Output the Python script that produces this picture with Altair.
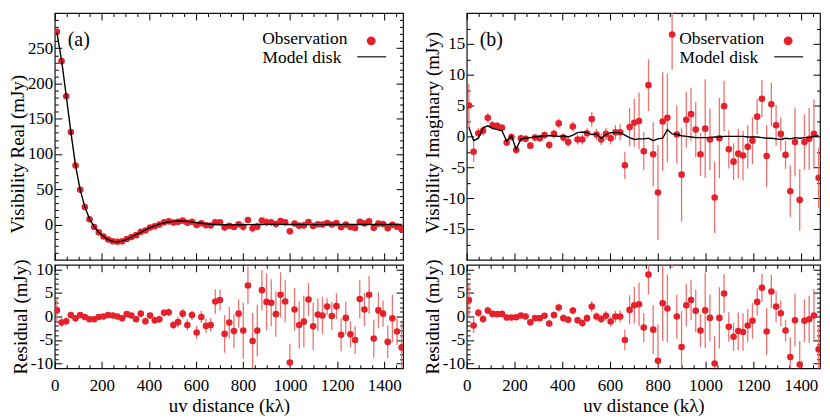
import altair as alt
import pandas as pd

# ---------------- data ----------------
uv = [9, 28.8, 48.6, 68.4, 88.2, 108, 127.8, 147.6, 167.4, 187.2,
      207, 226.8, 246.6, 266.4, 286.2, 306, 325.8, 345.6, 365.4, 385.2,
      405, 424.8, 444.6, 464.4, 484.2, 504, 523.8, 543.6, 563.4, 583.2,
      603, 622.8, 642.6, 662.4, 682.2, 702, 721.8, 741.6, 761.4, 781.2,
      801, 820.8, 840.6, 860.4, 880.2, 900, 919.8, 939.6, 959.4, 979.2,
      999, 1018.8, 1038.6, 1058.4, 1078.2, 1098, 1117.8, 1137.6, 1157.4, 1177.2,
      1197, 1216.8, 1236.6, 1256.4, 1276.2, 1296, 1315.8, 1335.6, 1355.4, 1375.2,
      1395, 1414.8, 1434.6, 1454.4, 1474.2]

real_obs = [273.3, 231.7, 182.0, 131.3, 83.6, 49.3, 24.9, 7.4, -3.6, -11.1,
            -17.0, -21.2, -23.8, -24.5, -23.9, -20.5, -17.8, -15.1, -10.4, -8.5,
            -4.3, -2.6, -0.1, 3.1, 4.5, 2.7, 3.8, 5.5, 2.6, 3.9,
            -0.7, 1.7, -1.0, -1.4, 3.2, 3.2, -4.1, -1.8, -3.6, 0.2,
            -3.3, 6.4, -5.3, -3.0, 5.7, 3.3, 3.1, 0.7, 4.8, 3.3,
            -9.7, 1.5, -1.8, -1.2, 3.5, -2.2, 0.3, 0.1, 2.1, 0.1,
            2.2, -3.9, -0.2, -3.7, -4.9, 3.8, 1.6, 4.6, -4.7, 1.3,
            0.6, -5.4, -0.4, -3.2, -6.6]

real_model = [272, 233, 183, 131, 84, 49, 25, 8, -3, -11,
              -17, -21.5, -24, -24.5, -23.5, -21, -18, -14.5, -11, -7.5,
              -4.5, -1.8, 0.5, 2.3, 3.6, 4.5, 5.0, 4.9, 4.4, 3.6,
              2.7, 1.8, 1.0, 0.4, 0.0, -0.3, -0.4, -0.5, -0.5, -0.4,
              -0.3, -0.2, -0.1, 0.0, 0.1, 0.2, 0.2, 0.2, 0.2, 0.1,
              0.1, 0.0, 0.0, -0.1, -0.1, -0.1, -0.1, -0.1, 0.0, 0.0,
              0.0, 0.0, 0.1, 0.1, 0.1, 0.1, 0.1, 0.0, 0.0, 0.0,
              0.0, 0.0, 0.0, 0.0, 0.0]

real_resid = [1.3, -1.3, -1.0, 0.3, -0.4, 0.3, -0.1, -0.6, -0.6, -0.1,
              0.0, 0.3, 0.2, 0.0, -0.4, 0.5, 0.2, -0.6, 0.6, -1.0,
              0.2, -0.8, -0.6, 0.8, 0.9, -1.8, -1.2, 0.6, -1.8, 0.3,
              -3.4, -0.1, -2.0, -1.8, 3.2, 3.5, -3.7, -1.3, -3.1, 0.6,
              -3.0, 6.6, -5.2, -3.0, 5.6, 3.1, 2.9, 0.5, 4.6, 3.2,
              -9.8, 1.5, -1.8, -1.1, 3.6, -2.1, 0.4, 0.2, 2.1, 0.1,
              2.2, -3.9, -0.3, -3.8, -5.0, 3.7, 1.5, 4.6, -4.7, 1.3,
              0.6, -5.4, -0.4, -3.2, -6.6]

real_err = [2.4, 1.0, 0.9, 0.7, 0.7, 0.6, 0.6, 0.6, 0.6, 0.6,
            0.6, 0.6, 0.6, 0.6, 0.6, 0.6, 0.6, 0.7, 0.7, 0.8,
            0.7, 0.8, 0.8, 0.8, 0.8, 0.9, 1.1, 1.0, 1.2, 1.0,
            1.4, 1.3, 1.5, 1.4, 2.6, 2.2, 4.0, 3.3, 3.6, 3.0,
            6.0, 4.0, 6.0, 5.5, 4.3, 6.0, 5.0, 4.8, 4.8, 4.5,
            4.0, 4.5, 5.0, 5.5, 3.5, 5.0, 3.5, 4.0, 1.8, 3.0,
            2.8, 3.5, 3.5, 2.8, 3.0, 4.0, 3.5, 4.0, 4.0, 3.8,
            2.8, 3.5, 5.0, 2.8, 5.5]

imag_obs = [5.0, -2.5, 0.5, 0.9, 3.0, 1.8, 1.7, 1.4, -1.0, -0.1,
            -2.2, -0.3, -0.4, -1.5, -0.2, -0.3, 0.2, -1.4, 0.4, 2.1,
            -0.2, -0.9, 1.6, -0.5, -0.5, 0.5, 2.8, 0.3, -0.5, 0.4,
            -0.3, 0.65, 0.65, -4.7, 1.5, 2.2, 2.5, -2.4, 8.3, -2.9,
            -9.1, 2.4, 3.0, 16.5, 0.3, -6.2, 2.7, 3.6, 1.1, -2.9,
            1.25, -0.5, -9.9, -0.3, 4.9, -2.1, -4.1, -2.8, -3.1, -1.7,
            -0.7, 3.2, 6.1, -3.2, 5.2, 1.8, 0.4, -3.0, -8.9, -0.9,
            -10.3, -0.9, -0.4, 0.4, -6.7]

imag_model = [1.5, -0.7, -0.3, 1.4, 1.7, 1.3, 1.1, 0.9, -0.8, 0.1,
              -2.1, -0.4, -0.3, -0.2, -0.1, 0.0, 0.1, 0.1, 0.1, 0.0,
              0.1, -0.1, 0.2, 0.6, 0.7, 0.6, 0.3, 0.4, -0.3, 0.3,
              0.6, 0.6, 0.6, 0.2, -0.2, -0.5, -0.4, -0.4, -0.3, -0.7,
              -0.4, -0.3, 1.1, 0.4, 0.3, 0.1, 0.0, -0.1, -0.2, -0.2,
              -0.2, -0.2, -0.1, -0.1, 0.0, 0.0, 0.0, 0.0, 0.0, -0.1,
              -0.1, -0.1, -0.2, -0.3, -0.3, -0.4, -0.5, -0.3, -0.4, -0.2,
              -0.3, -0.2, -0.2, 0.0, 0.1]

imag_resid = [3.5, -1.9, 0.8, -0.55, 1.25, 0.55, 0.5, 0.55, -0.2, -0.2,
              -0.15, 0.2, 0.0, -1.25, -0.35, -0.35, 0.15, -1.5, 0.3, 1.9,
              -0.35, -0.7, 1.25, -0.8, -1.4, -0.35, 2.1, 0.0, -0.55, 0.15,
              -1.05, 0.0, 0.0, -5.0, 1.4, 2.4, 2.6, -2.35, 8.9, -2.8,
              -9.4, 2.8, 1.7, 16.0, 0.0, -6.5, 2.4, 3.5, 1.2, -3.0,
              1.3, -0.3, -10.0, -0.3, 4.9, -2.2, -4.3, -3.1, -3.3, -1.9,
              -0.9, 3.1, 6.1, -3.2, 5.3, 2.1, 0.7, -3.0, -8.6, -0.8,
              -10.2, -0.9, -0.6, 0.2, -7.0]

imag_err = [3.5, 1.6, 0.9, 0.8, 0.8, 0.7, 0.6, 0.6, 0.6, 0.6,
            0.6, 0.6, 0.6, 0.6, 0.6, 0.6, 0.6, 0.7, 0.7, 0.8,
            0.7, 0.8, 0.8, 0.8, 0.8, 0.8, 1.2, 0.9, 0.9, 1.0,
            1.0, 1.2, 1.3, 2.2, 3.1, 3.9, 4.6, 3.1, 4.2, 5.2,
            7.7, 8.0, 7.2, 5.7, 4.7, 7.6, 4.5, 4.3, 4.5, 3.5,
            8.0, 5.0, 5.8, 6.5, 4.1, 3.1, 3.0, 4.0, 4.0, 3.5,
            3.8, 2.9, 3.0, 5.0, 3.5, 3.3, 2.7, 2.3, 4.2, 5.6,
            5.0, 4.5, 5.0, 5.6, 4.9]

legend_labels = ["Observation", "Model disk"]
panel_tags = ["(a)", "(b)"]
y_titles = ["Visibility Real (mJy)", "Visibility Imaginary (mJy)", "Residual (mJy)"]
x_title = "uv distance (k\u03bb)"

# ---------------- style ----------------
FONT = "Liberation Serif"
RED = "#e5222b"
ERRC = "#ef7272"
XDOM = [0, 1480]
XVALS = list(range(50, 1451, 50)) + [0]


def make_df(obs, model, err, resid):
    return pd.DataFrame({"uv": uv, "obs": obs, "model": model,
                         "err": err, "resid": resid})


def ax(orient, values, major_mod, label_test=None, title=None, pad=0, tpad=0,
       title_y=None):
    kw = dict(orient=orient, values=values, domain=False, grid=False,
              tickSize=alt.ExprRef(
                  expr=f"abs(datum.value % {major_mod}) < 1e-6 ? -7 : -3.5"),
              tickColor="black", tickWidth=1, title=title)
    if label_test:
        kw.update(labels=True,
                  labelExpr=f"({label_test}) ? toString(datum.value) : ''",
                  labelPadding=pad, labelOverlap=False, labelFlush=False,
                  labelFont=FONT, labelFontSize=17, labelColor="black",
                  titleFont=FONT, titleFontSize=19, titleFontWeight="normal",
                  titleColor="black", titlePadding=tpad)
        if title_y is not None:
            kw.update(titleY=title_y, titleAlign="left")
    else:
        kw.update(labels=False)
    return alt.Axis(**kw)


def annotations(tag, w):
    one = alt.Chart(pd.DataFrame({"k": [0]}))
    items = [
        one.mark_text(text=tag, font=FONT, fontSize=20, align="left",
                      baseline="alphabetic", color="black").encode(
            x=alt.value(13), y=alt.value(33)),
        one.mark_text(text=legend_labels[0], font=FONT, fontSize=17.5, align="right",
                      baseline="alphabetic", color="black").encode(
            x=alt.value(w - 56), y=alt.value(31)),
        one.mark_circle(color=RED, size=80, opacity=1).encode(
            x=alt.value(w - 32), y=alt.value(28)),
        one.mark_text(text=legend_labels[1], font=FONT, fontSize=17.5, align="right",
                      baseline="alphabetic", color="black").encode(
            x=alt.value(w - 62), y=alt.value(50)),
        one.mark_rule(color="#444444", strokeWidth=1.5).encode(
            x=alt.value(w - 46), x2=alt.value(w - 17), y=alt.value(44)),
    ]
    return items


def panel(df, col, ydom, yvals, ymod, ylab, ytitle, xlabels, w, h,
          with_model, tag=None, title_y=None):
    xs = alt.Scale(domain=XDOM, nice=False, zero=False)
    ys = alt.Scale(domain=ydom, nice=False, zero=False)
    xa = ax("bottom", XVALS, 200,
            "datum.value % 200 === 0" if xlabels else None,
            x_title if xlabels else None, pad=16, tpad=0)
    ya = ax("left", yvals, ymod, ylab, ytitle, pad=9, tpad=0, title_y=title_y)
    X = alt.X("uv:Q", scale=xs, axis=xa)
    base = alt.Chart(df)
    bars = base.transform_calculate(
        lo=f"datum.{col} - datum.err", hi=f"datum.{col} + datum.err"
    ).mark_rule(clip=True, color=ERRC, strokeWidth=1.3).encode(
        x=X, y=alt.Y("lo:Q", scale=ys, axis=ya), y2="hi:Q")
    pts = base.mark_circle(clip=True, color=RED, size=44, opacity=1).encode(
        x=X, y=alt.Y(f"{col}:Q", scale=ys, axis=ya))
    layers = [bars, pts]
    if with_model:
        layers.append(base.mark_line(clip=True, color="black", strokeWidth=1.4).encode(
            x=X, y=alt.Y("model:Q", scale=ys, axis=ya)))
    data_layer = alt.layer(*layers)
    mirror = base.mark_point(opacity=0, clip=True).encode(
        x=alt.X("uv:Q", scale=xs, axis=ax("top", XVALS, 200)),
        y=alt.Y(f"{col}:Q", scale=ys, axis=ax("right", yvals, ymod)))
    extra = annotations(tag, w) if tag else []
    return alt.layer(data_layer, mirror, *extra).resolve_scale(
        x="independent", y="independent").resolve_axis(
        x="independent", y="independent").properties(width=w, height=h)


dfL = make_df(real_obs, real_model, real_err, real_resid)
dfR = make_df(imag_obs, imag_model, imag_err, imag_resid)

REAL_VALS = list(range(-40, 291, 10))
IMAG_VALS = [v / 2 for v in range(-35, 36, 5)]
RES_VALS = list(range(-10, 11, 1))

topL = panel(dfL, "obs", [-50, 300], REAL_VALS, 50,
             "datum.value >= 0 && datum.value <= 250 && datum.value % 50 === 0",
             y_titles[0], False, 350, 248, True, panel_tags[0], title_y=221)
resL = panel(dfL, "resid", [-11, 11], RES_VALS, 5,
             "datum.value % 5 === 0 && abs(datum.value) <= 10",
             y_titles[2], True, 350, 104, False)
topR = panel(dfR, "obs", [-20, 20], IMAG_VALS, 5,
             "datum.value % 5 === 0 && abs(datum.value) <= 15",
             y_titles[1], False, 355, 248, True, panel_tags[1], title_y=221)
resR = panel(dfR, "resid", [-11, 11], RES_VALS, 5,
             "datum.value % 5 === 0 && abs(datum.value) <= 10",
             y_titles[2], True, 355, 104, False)

chart = alt.hconcat(
    alt.vconcat(topL, resL, spacing=5, bounds="flush"),
    alt.vconcat(topR, resR, spacing=5, bounds="flush"),
    spacing=17,
).properties(
    padding={"left": -1, "top": 1, "right": 0, "bottom": 0},
    background="white",
).configure_view(
    stroke="#111111", strokeWidth=1.2
)

chart.save("out.html", embed_options={"renderer": "svg", "actions": False})
